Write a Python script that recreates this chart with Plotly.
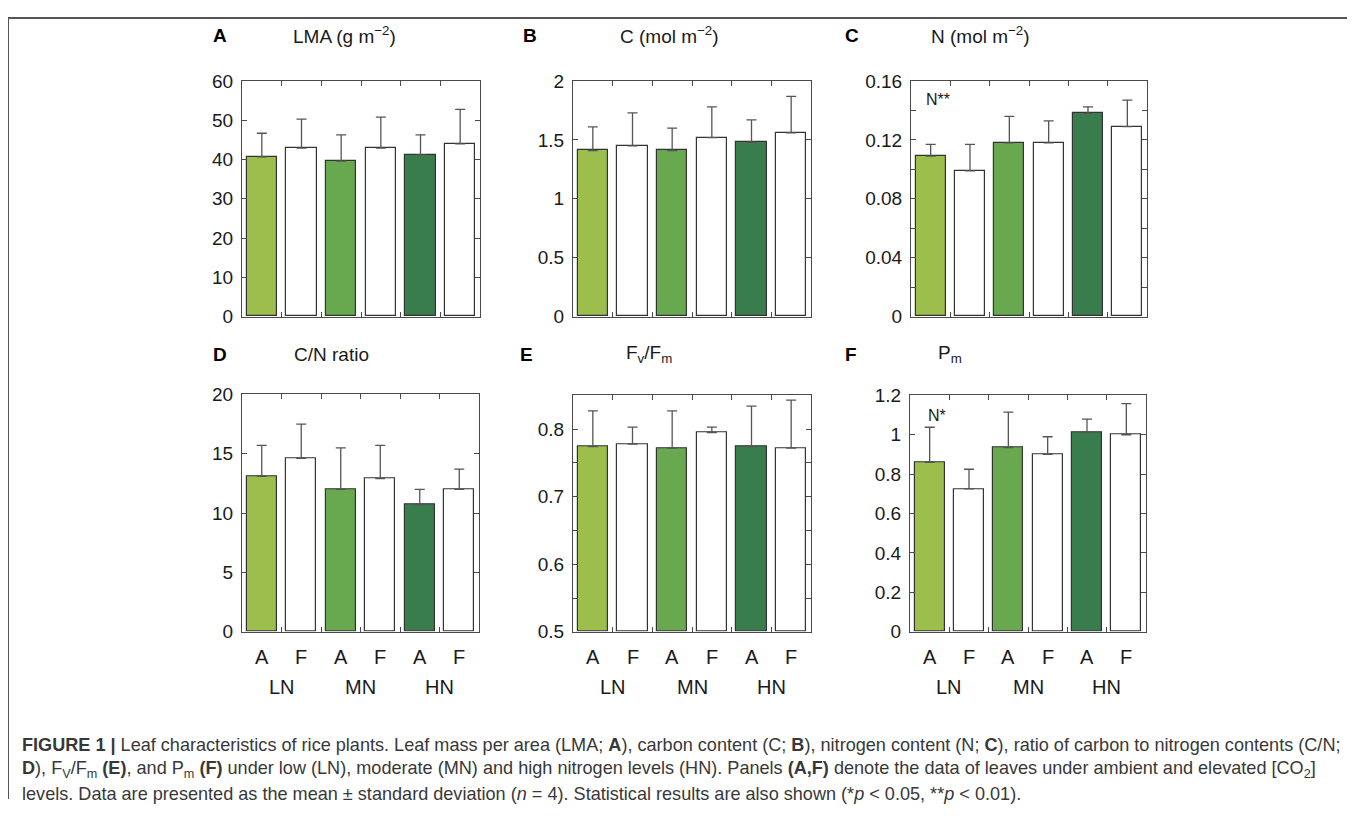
import plotly.graph_objects as go

# ---------------- data ----------------
treatments = ["A", "F", "A", "F", "A", "F"]
nitrogen_levels = ["LN", "MN", "HN"]

lma_mean = [40.7, 42.9, 39.6, 42.9, 41.2, 44.0]
lma_sd = [6.0, 7.4, 6.7, 7.9, 5.1, 8.8]

c_mean = [1.41, 1.45, 1.41, 1.52, 1.48, 1.56]
c_sd = [0.20, 0.28, 0.19, 0.26, 0.19, 0.31]

n_mean = [0.109, 0.099, 0.118, 0.118, 0.138, 0.129]
n_sd = [0.008, 0.018, 0.018, 0.015, 0.0045, 0.018]

cn_mean = [13.1, 14.6, 12.0, 12.9, 10.7, 12.0]
cn_sd = [2.6, 2.9, 3.5, 2.8, 1.3, 1.7]

fvfm_mean = [0.774, 0.778, 0.772, 0.795, 0.774, 0.772]
fvfm_sd = [0.053, 0.025, 0.055, 0.008, 0.060, 0.071]

pm_mean = [0.860, 0.725, 0.935, 0.900, 1.012, 1.000]
pm_sd = [0.178, 0.100, 0.180, 0.090, 0.067, 0.158]

# ---------------- style ----------------
OFF = 8
W, H = 1355 - 2 * OFF, 818 - 2 * OFF
bar_colors = ["#9bbe4c", "#ffffff", "#68a84f", "#ffffff", "#387d4b", "#ffffff"]
FONT = "Liberation Sans, Arial, Helvetica, sans-serif"
AX = "#4a4a4a"
TXT = "#1a1a1a"


def px(x):
    return (x - OFF) / W


def py(y):
    page = (y - 10) / 0.976
    return 1 - (page - OFF) / H


panels = [
    dict(letter="A", title="LMA (g m<sup>−2</sup>)", mean=lma_mean, sd=lma_sd, yr=[0, 60], dt=10, mdt=None,
         xb=(242, 480), yb=(81, 317), tcx=344, lx=211, hy=35, xl=False),
    dict(letter="B", title="C (mol m<sup>−2</sup>)", mean=c_mean, sd=c_sd, yr=[0, 2], dt=0.5, mdt=None,
         xb=(573, 811), yb=(81, 317), tcx=669, lx=521, hy=35, xl=False),
    dict(letter="C", title="N (mol m<sup>−2</sup>)", mean=n_mean, sd=n_sd, yr=[0, 0.16], dt=0.04, mdt=0.02,
         xb=(911, 1147), yb=(81, 317), tcx=980, lx=843, hy=35, xl=False),
    dict(letter="D", title="C/N ratio", mean=cn_mean, sd=cn_sd, yr=[0, 20], dt=5, mdt=None,
         xb=(242, 479), yb=(395, 633), tcx=331, lx=211, hy=355, xl=True),
    dict(letter="E", title="F<sub>v</sub>/F<sub>m</sub>", mean=fvfm_mean, sd=fvfm_sd, yr=[0.5, 0.85], dt=0.1, mdt=0.05,
         xb=(573, 811), yb=(396, 633), tcx=649, lx=518, hy=355, xl=True),
    dict(letter="F", title="P<sub>m</sub>", mean=pm_mean, sd=pm_sd, yr=[0, 1.2], dt=0.2, mdt=None,
         xb=(910, 1146), yb=(396, 633), tcx=950, lx=843, hy=355, xl=True),
]

fig = go.Figure()
annotations = []
xcats = list(range(len(treatments)))

for i, p in enumerate(panels):
    k = "" if i == 0 else str(i + 1)
    xa, ya = "x" + k, "y" + k
    base = p["yr"][0]
    fig.add_trace(go.Bar(
        x=xcats, y=[m - base for m in p["mean"]], base=base,
        width=0.77,
        marker=dict(color=bar_colors, line=dict(color="#333333", width=1.2)),
        error_y=dict(type="data", symmetric=False, array=p["sd"], arrayminus=[0] * 6,
                     color="#555555", thickness=1.3, width=5),
        xaxis=xa, yaxis=ya, showlegend=False, hoverinfo="skip",
    ))
    xdom = [px(p["xb"][0]), px(p["xb"][1])]
    ydom = [py(p["yb"][1]), py(p["yb"][0])]
    xkw = dict(domain=xdom, range=[-0.5, 5.5], anchor=ya, showline=True, linecolor=AX, linewidth=1,
               mirror="ticks", ticks="inside", ticklen=5, tickcolor=AX, tickwidth=1,
               tickvals=[0.5, 1.5, 2.5, 3.5, 4.5], showticklabels=False, showgrid=False, zeroline=False,
               fixedrange=True)
    ykw = dict(domain=ydom, range=p["yr"], anchor=xa, showline=True, linecolor=AX, linewidth=1,
               mirror="ticks", ticks="inside", ticklen=5, tickcolor=AX, tickwidth=1,
               dtick=p["dt"], tick0=0, showgrid=False, zeroline=False,
               tickfont=dict(family=FONT, size=19, color=TXT), ticklabelstandoff=4, fixedrange=True)
    if p["mdt"]:
        ykw["minor"] = dict(dtick=p["mdt"], ticks="inside", ticklen=5, tickcolor=AX, showgrid=False)
    fig.update_layout(**{"xaxis" + k: xkw, "yaxis" + k: ykw})

    annotations.append(dict(text="<b>%s</b>" % p["letter"], x=px(p["lx"]), y=py(p["hy"]), xref="paper", yref="paper",
                            xanchor="left", yanchor="middle", showarrow=False,
                            font=dict(family=FONT, size=19, color="#000")))
    annotations.append(dict(text=p["title"], x=px(p["tcx"]), y=py(p["hy"]), xref="paper", yref="paper",
                            xanchor="center", yanchor="middle", showarrow=False,
                            font=dict(family=FONT, size=19, color=TXT)))
    if p["xl"]:
        for j, t in enumerate(treatments):
            annotations.append(dict(text=t, x=j, xref=xa, y=py(658), yref="paper", xanchor="center",
                                    yanchor="middle", showarrow=False,
                                    font=dict(family=FONT, size=20, color=TXT)))
        for j, n in enumerate(nitrogen_levels):
            annotations.append(dict(text=n, x=2 * j + 0.5, xref=xa, y=py(688), yref="paper", xanchor="center",
                                    yanchor="middle", showarrow=False,
                                    font=dict(family=FONT, size=20, color=TXT)))

annotations.append(dict(text="N**", x=px(938), y=py(99), xref="paper", yref="paper", xanchor="center",
                        yanchor="middle", showarrow=False, font=dict(family=FONT, size=16, color=TXT)))
annotations.append(dict(text="N*", x=px(937), y=py(416), xref="paper", yref="paper", xanchor="center",
                        yanchor="middle", showarrow=False, font=dict(family=FONT, size=16, color=TXT)))

cap_lines = [
    "<b>FIGURE 1 |</b> Leaf characteristics of rice plants. Leaf mass per area (LMA; <b>A</b>), carbon content (C; <b>B</b>), "
    "nitrogen content (N; <b>C</b>), ratio of carbon to nitrogen contents (C/N;",
    "<b>D</b>), F<sub>V</sub>/F<sub>m</sub> <b>(E)</b>, and P<sub>m</sub> <b>(F)</b> under low (LN), moderate (MN) and high "
    "nitrogen levels (HN). Panels <b>(A,F)</b> denote the data of leaves under ambient and elevated [CO<sub>2</sub>]",
    "levels. Data are presented as the mean ± standard deviation (<i>n</i> = 4). Statistical results are also shown "
    "(*<i>p</i> &lt; 0.05, **<i>p</i> &lt; 0.01).",
]
for line, yy in zip(cap_lines, [746, 771, 796]):
    annotations.append(dict(text=line, x=px(20), y=py(yy), xref="paper", yref="paper", xanchor="left",
                            yanchor="middle", showarrow=False, align="left",
                            font=dict(family=FONT, size=18.1, color="#383838")))

shapes = [
    dict(type="line", xref="paper", yref="paper", x0=0, x1=1, y0=1, y1=1,
         line=dict(color="#555555", width=2)),
    dict(type="line", xref="paper", yref="paper", x0=0, x1=0, y0=1, y1=0,
         line=dict(color="#555555", width=2)),
]

fig.update_layout(
    width=W, height=H, margin=dict(l=0, r=0, t=0, b=0),
    paper_bgcolor="white", plot_bgcolor="white",
    annotations=annotations, shapes=shapes, bargap=0,
    font=dict(family=FONT, color=TXT),
)

fig.write_html("out.html")
